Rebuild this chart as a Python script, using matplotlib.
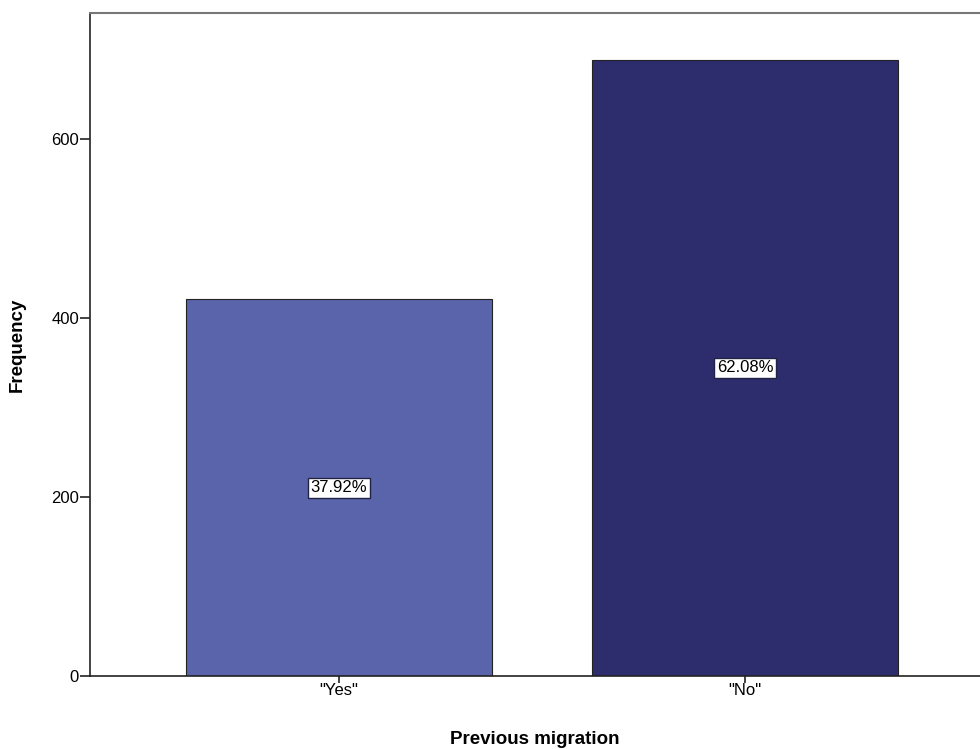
import matplotlib
matplotlib.use("Agg")
import matplotlib.pyplot as plt

categories = ['"Yes"', '"No"']
counts = [421, 689]
percent_labels = ["37.92%", "62.08%"]
bar_colors = ["#5a64aa", "#2d2d6e"]

plt.rcParams['font.family'] = ['Liberation Sans', 'DejaVu Sans']

fig = plt.figure(figsize=(9.8, 7.49), dpi=100)
ax = fig.add_axes([90/980, 73/749, 1 - 90/980, 663/749])

x = list(range(len(categories)))
ax.bar(x, counts, width=0.754, color=bar_colors, edgecolor="#222222", linewidth=0.8)

for xi, c, lab in zip(x, counts, percent_labels):
    ax.text(xi, c / 2, lab, ha="center", va="center", fontsize=12,
            bbox=dict(boxstyle="square,pad=0.15", facecolor="white", edgecolor="#222244", linewidth=1))

ax.set_xlim(-0.613, 1.579)
ax.set_ylim(0, 741)
ax.set_yticks([0, 200, 400, 600])
ax.set_xticks(x)
ax.set_xticklabels(categories)
ax.tick_params(axis="both", direction="out", labelsize=12, color="#222222", width=1.2)
ax.tick_params(axis="y", length=7, pad=1)
ax.tick_params(axis="x", length=5, pad=0)

ax.spines["right"].set_visible(False)
ax.spines["top"].set_color("#777777")
ax.spines["top"].set_linewidth(1.5)
ax.spines["left"].set_color("#222222")
ax.spines["left"].set_linewidth(1.2)
ax.spines["bottom"].set_color("#222222")
ax.spines["bottom"].set_linewidth(1.2)

ax.set_ylabel("Frequency", fontsize=13.5, fontweight="bold", labelpad=18)
ax.set_xlabel("Previous migration", fontsize=13.5, fontweight="bold", labelpad=24)

fig.savefig("out.png", dpi=100)
